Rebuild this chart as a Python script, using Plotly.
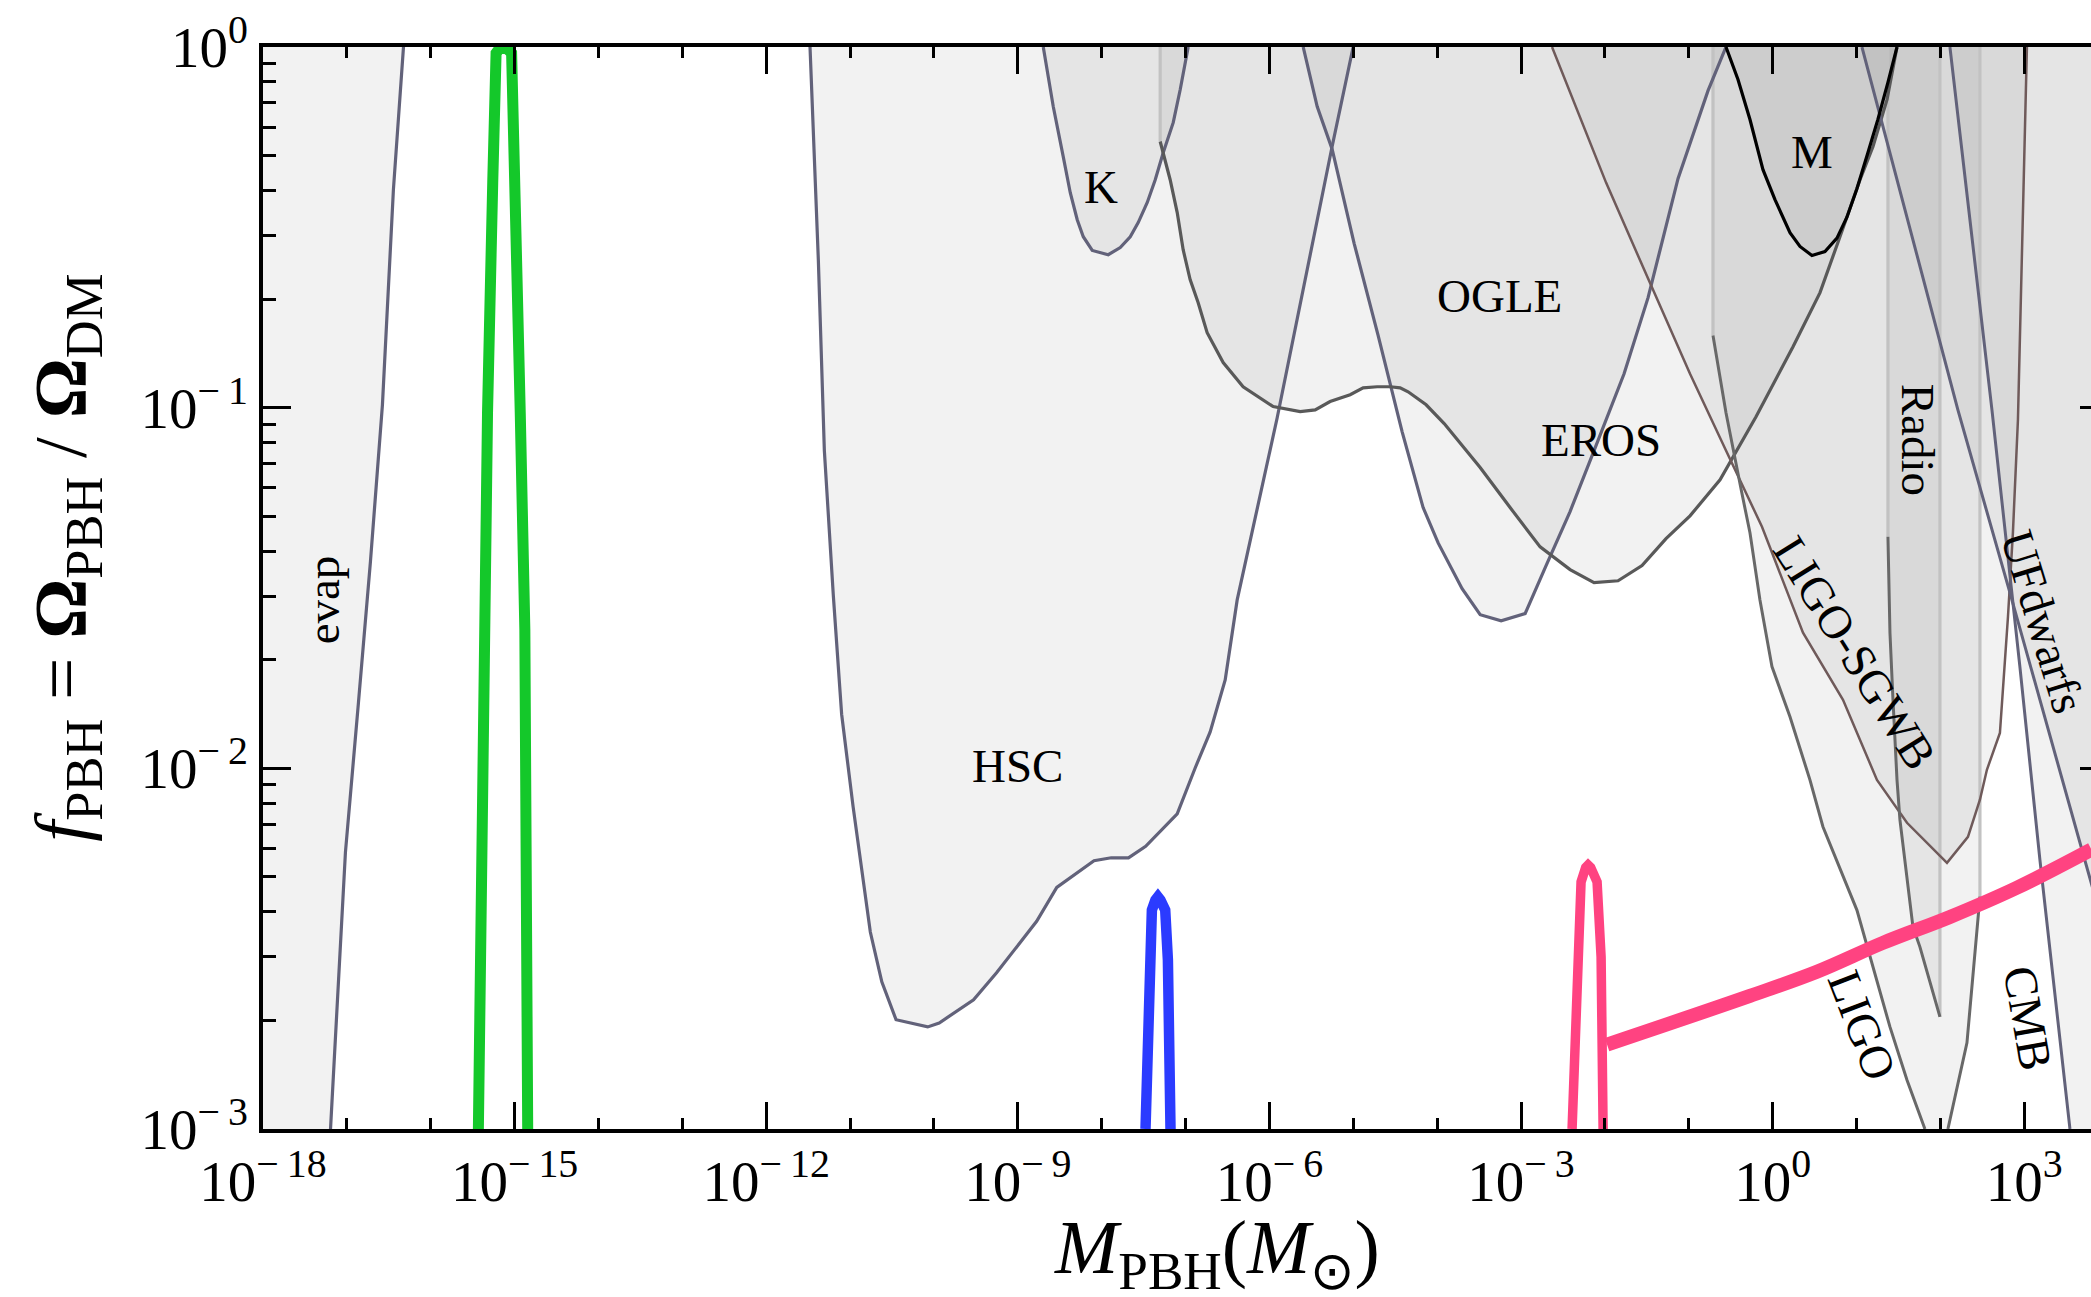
import numpy as np
import plotly.graph_objects as go

# ---------------- axes ----------------
X_RANGE = [-18, 3.795]          # log10(M / M_sun)
Y_RANGE = [-3, 0]               # log10(f_PBH)
x_major_exp = [-18, -15, -12, -9, -6, -3, 0, 3]
x_major_text = ["10<sup>−\u200918</sup>", "10<sup>−\u200915</sup>", "10<sup>−\u200912</sup>",
                "10<sup>−\u20099</sup>", "10<sup>−\u20096</sup>", "10<sup>−\u20093</sup>",
                "10<sup>0</sup>", "10<sup>3</sup>"]
x_minor_exp = list(range(-18, 4))
y_major_exp = [-3, -2, -1, 0]
y_major_text = ["10<sup>−\u20093</sup>", "10<sup>−\u20092</sup>", "10<sup>−\u20091</sup>", "10<sup>0</sup>"]
y_minor_mant = [2, 3, 4, 5, 6, 7, 8, 9]

# ---------------- constraint boundaries (log10 M, log10 f) ----------------
evap_logm = [-17.195, -17.017, -16.862, -16.719, -16.576, -16.445, -16.325]
evap_logf = [-3.0, -2.232, -1.818, -1.427, -0.992, -0.395, 0.0]

hsc_logm = [-11.478, -11.379, -11.307, -11.200, -11.101, -10.964, -10.759, -10.622, -10.452,
            -10.075, -9.938, -9.528, -9.254, -8.776, -8.536, -8.092, -7.887, -7.681, -7.476,
            -7.100, -6.886, -6.707, -6.528, -6.385, -5.908, -5.253, -5.002]
hsc_logf = [0.0, -0.589, -1.119, -1.521, -1.850, -2.107, -2.454, -2.592, -2.697,
            -2.717, -2.706, -2.642, -2.567, -2.424, -2.330, -2.256, -2.248, -2.248, -2.216,
            -2.126, -1.999, -1.899, -1.755, -1.533, -1.028, -0.276, 0.0]

k_logm = [-8.697, -8.578, -8.459, -8.375, -8.292, -8.220, -8.113, -7.922, -7.779, -7.660,
          -7.565, -7.457, -7.362, -7.267, -7.147, -7.064, -6.969]
k_logf = [0.0, -0.165, -0.304, -0.404, -0.479, -0.526, -0.564, -0.576, -0.556, -0.526,
          -0.487, -0.431, -0.368, -0.293, -0.209, -0.118, 0.0]

eros_logm = [-7.303, -7.184, -7.100, -7.029, -6.946, -6.850, -6.743, -6.552, -6.314, -5.956,
             -5.634, -5.455, -5.277, -5.038, -4.883, -4.716, -4.561, -4.442, -4.347, -4.132,
             -3.917, -3.488, -3.131, -2.773, -2.416, -2.130, -1.844, -1.558, -1.272, -0.986,
             -0.628, -0.199, 0.242, 0.564, 0.802, 1.041, 1.196, 1.363, 1.482]
eros_logf = [-0.262, -0.368, -0.459, -0.562, -0.645, -0.709, -0.792, -0.875, -0.942, -0.997,
             -1.011, -1.006, -0.983, -0.964, -0.945, -0.942, -0.942, -0.945, -0.956, -0.992,
             -1.044, -1.166, -1.277, -1.386, -1.449, -1.485, -1.480, -1.438, -1.363, -1.300,
             -1.200, -1.025, -0.831, -0.681, -0.526, -0.368, -0.276, -0.146, 0.0]

ogle_logm = [-5.598, -5.431, -5.252, -4.990, -4.704, -4.418, -4.168, -3.989, -3.703, -3.488,
             -3.238, -2.952, -2.702, -2.416, -2.130, -1.772, -1.486, -1.129, -0.771, -0.557]
ogle_logf = [0.0, -0.165, -0.284, -0.545, -0.800, -1.067, -1.277, -1.375, -1.502, -1.574,
             -1.591, -1.571, -1.438, -1.288, -1.119, -0.906, -0.695, -0.365, -0.121, 0.0]

m_logm = [-0.557, -0.414, -0.271, -0.116, 0.027, 0.206, 0.325, 0.468, 0.623, 0.766,
          0.885, 1.004, 1.135, 1.254, 1.374, 1.482]
m_logf = [0.0, -0.090, -0.201, -0.340, -0.423, -0.515, -0.553, -0.578, -0.567, -0.530,
          -0.472, -0.393, -0.293, -0.201, -0.098, 0.0]

sgwb_logm = [-2.631, -1.987, -1.486, -0.986, -0.557, -0.128, 0.361, 0.838, 1.243, 1.601,
             2.078, 2.328, 2.471, 2.554, 2.709, 2.805, 2.864, 2.924, 3.031]
sgwb_logf = [0.0, -0.376, -0.642, -0.906, -1.119, -1.330, -1.624, -1.810, -2.032, -2.151,
             -2.262, -2.190, -2.087, -2.004, -1.902, -1.580, -1.347, -1.033, 0.0]

ligo_left_logm = [-0.712, -0.557, -0.378, -0.271, -0.152, -0.009, 0.206, 0.444, 0.599,
                  1.004, 1.398, 1.601, 1.815]
ligo_left_logf = [-0.800, -1.014, -1.225, -1.347, -1.533, -1.718, -1.857, -2.032, -2.162,
                  -2.393, -2.717, -2.864, -3.0]
ligo_right_logm = [2.089, 2.316, 2.471]
ligo_right_logf = [-3.0, -2.761, -2.356]

radio_logm = [1.374, 1.398, 1.434, 1.482, 1.517, 1.672, 1.755, 1.994]
radio_logf = [-1.358, -1.624, -1.810, -2.032, -2.143, -2.440, -2.495, -2.689]

ufd_logm = [1.064, 2.208, 2.828, 3.424, 3.781, 4.139]
ufd_logf = [0.0, -1.006, -1.513, -2.004, -2.301, -2.601]

cmb_logm = [2.113, 2.614, 2.947, 3.186, 3.544]
cmb_logf = [0.0, -1.006, -1.718, -2.254, -3.0]

# ---------------- mass functions ----------------
green_logm = [-15.432, -15.378, -15.323, -15.261, -15.221, -15.180, -15.138, -15.095,
              -15.036, -14.988, -14.933, -14.878, -14.844]
green_logf = [-3.0, -1.616, -1.013, -0.376, -0.017, -0.004, 0.0, -0.004,
              -0.017, -0.376, -1.013, -1.616, -3.0]

blue_logm = [-7.478, -7.454, -7.434, -7.402, -7.36, -7.33, -7.30, -7.243, -7.211, -7.188, -7.180]
blue_logf = [-3.0, -2.716, -2.531, -2.393, -2.365, -2.356, -2.365, -2.393, -2.531, -2.716, -3.0]

pink_peak_logm = [-2.392, -2.333, -2.285, -2.230, -2.201, -2.170, -2.094, -2.046, -2.022]
pink_peak_logf = [-3.0, -2.523, -2.315, -2.275, -2.268, -2.275, -2.315, -2.523, -3.0]

pink_tail_logm = [-1.975, -0.271, 0.527, 1.314, 2.113, 2.911, 3.800]
pink_tail_logf = [-2.766, -2.631, -2.564, -2.484, -2.412, -2.331, -2.225]

# ---------------- styling ----------------
SERIF = "Liberation Serif, Times New Roman, serif"
FILL = "rgba(0,0,0,0.05)"
C_PURPLE = "#62627a"
C_DARK = "#595959"
C_GRAY = "#686868"
C_BROWN = "#6f5a5a"
C_LIGHT = "#c2c2c2"
TOP = 0.25          # polygons are closed just above the frame
RIGHT = 4.4


def pw(v):
    return list(10.0 ** np.asarray(v, dtype=float))


fig = go.Figure()


def add_fill(xs, ys):
    fig.add_trace(go.Scatter(x=pw(xs), y=pw(ys), mode="lines", fill="toself",
                             fillcolor=FILL, line=dict(width=0),
                             hoverinfo="skip", showlegend=False))


def add_line(xs, ys, color, width, shape="linear"):
    fig.add_trace(go.Scatter(x=pw(xs), y=pw(ys), mode="lines",
                             line=dict(color=color, width=width, shape=shape),
                             hoverinfo="skip", showlegend=False))


# shaded excluded regions
add_fill([-18.6] + evap_logm + [evap_logm[-1], -18.6],
         [-3.0] + evap_logf + [TOP, TOP])
add_fill([hsc_logm[0]] + hsc_logm + [hsc_logm[-1]], [TOP] + hsc_logf + [TOP])
add_fill([k_logm[0]] + k_logm + [k_logm[-1]], [TOP] + k_logf + [TOP])
add_fill([eros_logm[0]] + eros_logm + [eros_logm[-1]], [TOP] + eros_logf + [TOP])
add_fill([ogle_logm[0]] + ogle_logm + [ogle_logm[-1]], [TOP] + ogle_logf + [TOP])
add_fill([m_logm[0]] + m_logm + [m_logm[-1]], [TOP] + m_logf + [TOP])
add_fill([sgwb_logm[0]] + sgwb_logm + [sgwb_logm[-1]], [TOP] + sgwb_logf + [TOP])
add_fill([ligo_left_logm[0]] + ligo_left_logm + ligo_right_logm + [ligo_right_logm[-1]],
         [TOP] + ligo_left_logf + ligo_right_logf + [TOP])
add_fill([radio_logm[0]] + radio_logm + [radio_logm[-1]], [TOP] + radio_logf + [TOP])
add_fill([ufd_logm[0]] + ufd_logm + [RIGHT, RIGHT], [TOP] + ufd_logf + [ufd_logf[-1], TOP])
add_fill([cmb_logm[0]] + cmb_logm + [3.69, RIGHT, RIGHT], [TOP] + cmb_logf + [-3.3, -3.3, TOP])

# light vertical edges of the regions
for xv, yb in [(eros_logm[0], eros_logf[0]), (ligo_left_logm[0], ligo_left_logf[0]),
               (ligo_right_logm[-1], ligo_right_logf[-1]), (radio_logm[0], radio_logf[0]),
               (radio_logm[-1], radio_logf[-1])]:
    add_line([xv, xv], [0.0, yb], C_LIGHT, 3.2)

# region boundaries
add_line(evap_logm, evap_logf, C_PURPLE, 3.2)
add_line(hsc_logm, hsc_logf, C_PURPLE, 3.2)
add_line(k_logm, k_logf, C_PURPLE, 3.2)
add_line(ogle_logm, ogle_logf, C_PURPLE, 3.2)
add_line(eros_logm, eros_logf, C_DARK, 3.2)
add_line(sgwb_logm, sgwb_logf, C_BROWN, 2.5)
add_line(ligo_left_logm, ligo_left_logf, C_GRAY, 3.0)
add_line(ligo_right_logm, ligo_right_logf, C_GRAY, 3.0)
add_line(radio_logm, radio_logf, C_GRAY, 3.0)
add_line(ufd_logm, ufd_logf, C_PURPLE, 3.0)
add_line(cmb_logm, cmb_logf, C_PURPLE, 3.0)
add_line(m_logm, m_logf, "#000000", 3.2)

# PBH mass functions
add_line(green_logm, green_logf, "#14c82a", 11)
add_line(blue_logm, blue_logf, "#2b3bff", 10.5)
add_line(pink_peak_logm, pink_peak_logf, "#ff4381", 9.5)
add_line(pink_tail_logm, pink_tail_logf, "#ff4381", 14, shape="spline")

# carrier for the right-hand tick stubs
fig.add_trace(go.Scatter(x=[None], y=[None], yaxis="y2", showlegend=False, hoverinfo="skip"))

# region labels
labels = [
    ("evap", -17.291, -1.533, -90),
    ("HSC", -9.007, -1.993, 0),
    ("K", -8.006, -0.387, 0),
    ("OGLE", -3.262, -0.689, 0),
    ("EROS", -2.047, -1.089, 0),
    ("M", 0.469, -0.290, 0),
    ("Radio", 1.733, -1.089, 90),
    ("LIGO-SGWB", 0.981, -1.680, 58),
    ("LIGO", 1.064, -2.712, 69),
    ("CMB", 3.044, -2.692, 80),
    ("UFdwarfs", 3.225, -1.594, 73),
]
for txt, lx, ly, ang in labels:
    fig.add_annotation(x=lx, y=ly, xref="x", yref="y", text=txt, showarrow=False,
                       textangle=ang, font=dict(family=SERIF, size=47, color="black"))

# axis titles
fig.add_annotation(x=0.522, y=-0.115, xref="paper", yref="paper", showarrow=False,
                   text="<i>M</i><sub>PBH</sub>(<i>M</i><sub>⊙</sub>)",
                   font=dict(family=SERIF, size=76, color="black"),
                   xanchor="center", yanchor="middle")
fig.add_annotation(x=-0.1078, y=0.528, xref="paper", yref="paper", showarrow=False,
                   text="<i>f</i><sub>PBH</sub> = <b>Ω</b><sub>PBH</sub> / <b>Ω</b><sub>DM</sub>",
                   textangle=-90, font=dict(family=SERIF, size=75, color="black"),
                   xanchor="center", yanchor="middle")

tickfont = dict(family=SERIF, size=57, color="black")
fig.update_layout(
    width=2091, height=1297,
    margin=dict(l=263, r=0, t=47, b=168),
    paper_bgcolor="white", plot_bgcolor="white",
    showlegend=False,
    xaxis=dict(type="log", range=X_RANGE, showgrid=False, zeroline=False,
               showline=True, linecolor="black", linewidth=3.5, mirror="ticks",
               ticks="inside", ticklen=27, tickwidth=3, tickcolor="black",
               tickmode="array", tickvals=[10.0 ** e for e in x_major_exp],
               ticktext=x_major_text, tickfont=tickfont,
               minor=dict(ticks="inside", ticklen=11, tickwidth=3, tickcolor="black",
                          tickmode="array", tickvals=[10.0 ** e for e in x_minor_exp])),
    yaxis=dict(type="log", range=Y_RANGE, showgrid=False, zeroline=False,
               showline=True, linecolor="black", linewidth=3.5, mirror=False,
               ticks="inside", ticklen=28, tickwidth=3, tickcolor="black",
               tickmode="array", tickvals=[10.0 ** e for e in y_major_exp],
               ticktext=y_major_text, tickfont=tickfont,
               minor=dict(ticks="inside", ticklen=13, tickwidth=3, tickcolor="black",
                          tickmode="array",
                          tickvals=[m * 10.0 ** e for e in (-3, -2, -1) for m in y_minor_mant])),
    yaxis2=dict(type="log", range=Y_RANGE, overlaying="y", side="right",
                showgrid=False, zeroline=False, showline=False, showticklabels=False,
                ticks="inside", ticklen=11, tickwidth=3, tickcolor="black",
                tickmode="array", tickvals=[10.0 ** e for e in y_major_exp]),
)

fig.write_html("out.html")
